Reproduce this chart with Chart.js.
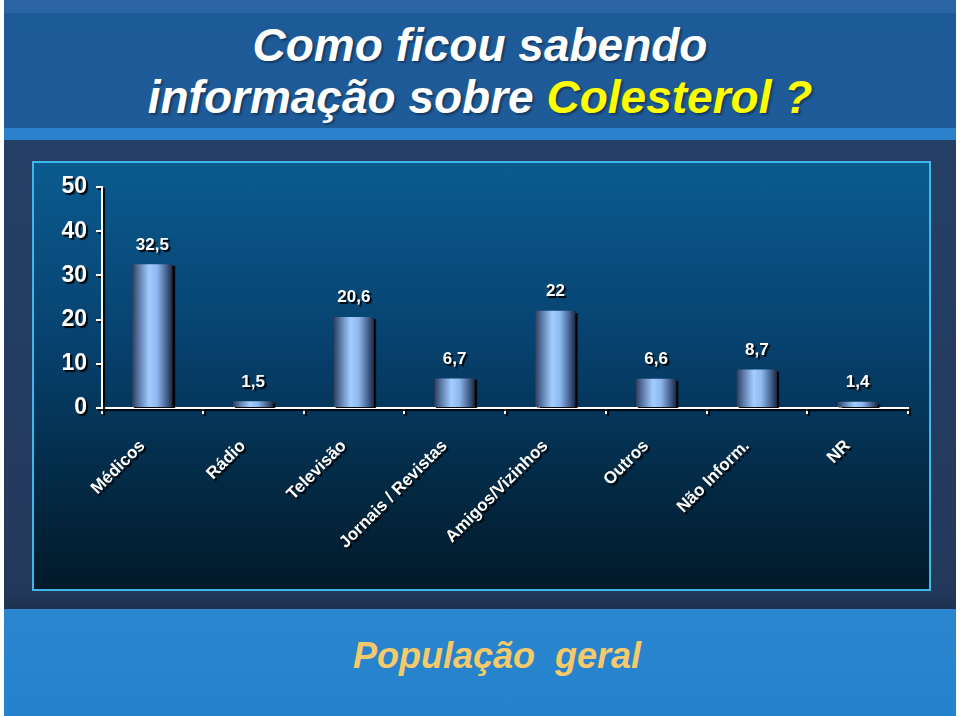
<!DOCTYPE html>
<html>
<head>
<meta charset="utf-8">
<script src="https://cdn.jsdelivr.net/npm/chart.js@4/dist/chart.umd.min.js"></script>
<style>
  html, body { margin: 0; padding: 0; }
  body { width: 960px; height: 716px; background: #fff; position: relative; overflow: hidden;
         font-family: 'Liberation Sans', Arial, sans-serif; }
  .slide { position: absolute; left: 4px; top: 0; width: 952px; height: 716px;
           background: linear-gradient(#2a64a4 0, #2a64a4 13px, #1d5a98 13px, #1f5b99 128px, #2b80cb 128px, #2b80cb 140px,
                                       #253f66 140px, #23395c 590px, #1d3150 609px, #2a86cf 609px, #2482cc 716px); }
  .title { position: absolute; left: 0; top: 19px; width: 960px; text-align: center; color: #fff;
           font: italic bold 46px 'Liberation Sans', Arial, sans-serif; line-height: 52px;
           text-shadow: 2px 2px 2px rgba(0,0,0,0.35); }
  .title span { color: #ffff00; }
  .panel { position: absolute; left: 32px; top: 161px; width: 895px; height: 426px;
           border: 2px solid #3cb8ea;
           background: linear-gradient(#0b5b8f, #074371 40%, #032a45 75%, #021a2a); }
  .panel canvas { position: absolute; left: 0; top: 0; }
  .footer { position: absolute; left: 0; top: 635px; width: 994px; text-align: center; color: #f6c96a;
            font: italic bold 36px 'Liberation Sans', Arial, sans-serif; }
</style>
</head>
<body>
<div class="slide"></div>
<div class="title">Como ficou sabendo<br>informação sobre <span>Colesterol ?</span></div>
<div class="panel"><canvas id="chart" width="895" height="426"></canvas></div>
<div class="footer">População&nbsp; geral</div>
<script>
const categories = ['Médicos', 'Rádio', 'Televisão', 'Jornais / Revistas', 'Amigos/Vizinhos', 'Outros', 'Não Inform.', 'NR'];
const values = [32.5, 1.5, 20.6, 6.7, 22, 6.6, 8.7, 1.4];
const yTicks = [0, 10, 20, 30, 40, 50];

const FONT = "'Liberation Sans', Arial, sans-serif";

// everything on the slide has a hard black drop shadow
const shadowPlugin = {
    id: 'dropShadow',
    beforeDraw(chart) {
        const ctx = chart.ctx;
        ctx.save();
        ctx.shadowColor = 'rgba(0,0,0,0.95)';
        ctx.shadowOffsetX = 2;
        ctx.shadowOffsetY = 2;
        ctx.shadowBlur = 1;
    },
    afterDraw(chart) {
        chart.ctx.restore();
    }
};

// value labels above the bars, with comma decimals
const valueLabels = {
    id: 'valueLabels',
    afterDatasetsDraw(chart) {
        const ctx = chart.ctx;
        const meta = chart.getDatasetMeta(0);
        ctx.save();
        ctx.font = 'bold 17px ' + FONT;
        ctx.fillStyle = '#fff';
        ctx.textAlign = 'center';
        ctx.textBaseline = 'bottom';
        meta.data.forEach((bar, i) => {
            const txt = String(values[i]).replace('.', ',');
            ctx.fillText(txt, bar.x, bar.y - 11);
        });
        ctx.restore();
    }
};

function barGradient(c) {
    const chart = c.chart;
    const xs = chart.scales.x;
    if (!xs || c.type !== 'data') return '#8fb8ec';
    const cx = xs.getPixelForValue(c.dataIndex);
    const w = xs.width / categories.length * 0.4;
    if (!isFinite(cx) || !isFinite(w) || w <= 0) return '#8fb8ec';
    const g = chart.ctx.createLinearGradient(cx - w / 2, 0, cx + w / 2, 0);
    g.addColorStop(0, '#2e3e5c');
    g.addColorStop(0.18, '#5f7fae');
    g.addColorStop(0.42, '#a3cdff');
    g.addColorStop(0.62, '#8db8ee');
    g.addColorStop(0.85, '#45618f');
    g.addColorStop(1, '#1b2740');
    return g;
}

const chart = new Chart(document.getElementById('chart'), {
    type: 'bar',
    data: {
        labels: categories,
        datasets: [{
            data: values,
            backgroundColor: barGradient,
            borderWidth: 0,
            categoryPercentage: 0.8,
            barPercentage: 0.5
        }]
    },
    options: {
        responsive: false,
        animation: false,
        layout: { padding: { top: 24, right: 21, left: 0, bottom: 0 } },
        plugins: { legend: { display: false }, tooltip: { enabled: false } },
        scales: {
            x: {
                grid: { drawOnChartArea: false, drawTicks: true, tickLength: 6, color: '#fff', lineWidth: 2 },
                border: { color: '#fff', width: 2 },
                ticks: {
                    color: '#fff', font: { family: FONT, size: 17, weight: 'bold' },
                    minRotation: 45, maxRotation: 45, padding: 12, autoSkip: false,
                    // trailing spaces pull the slanted labels a bit left of the tick, as on the slide
                    callback: (v, i) => categories[i] + '   '
                },
                afterFit(scale) { scale.height = 181; }
            },
            y: {
                min: 0, max: 50,
                afterBuildTicks(scale) { scale.ticks = yTicks.map(v => ({ value: v })); },
                grid: { drawOnChartArea: false, drawTicks: true, tickLength: 6, color: '#fff', lineWidth: 2 },
                border: { color: '#fff', width: 2 },
                ticks: { color: '#fff', font: { family: FONT, size: 23, weight: 'bold' }, padding: 9 },
                afterFit(scale) { scale.width = 68; }
            }
        }
    },
    plugins: [shadowPlugin, valueLabels]
});
// second pass so the bar gradients see the laid-out scale
chart.update();
</script>
</body>
</html>
